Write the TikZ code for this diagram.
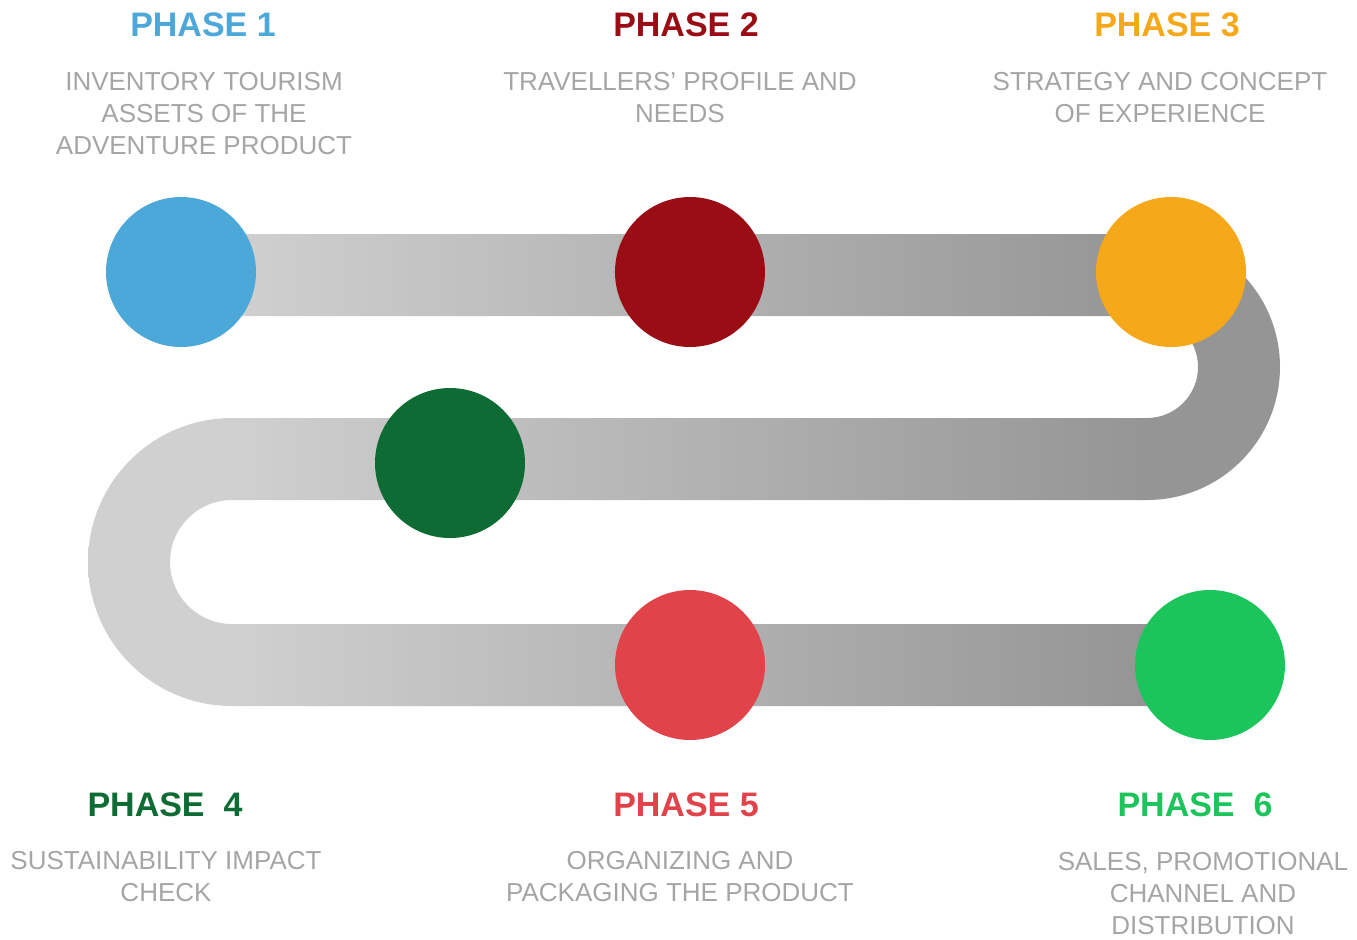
\documentclass[tikz,border=0pt]{standalone}
\usepackage{fontspec}
\setmainfont{Liberation Sans}

\definecolor{phaseone}{HTML}{4DA8DA}
\definecolor{phasetwo}{HTML}{9B0D15}
\definecolor{phasethree}{HTML}{F5A81A}
\definecolor{phasefour}{HTML}{0D6B33}
\definecolor{phasefive}{HTML}{E0434A}
\definecolor{phasesix}{HTML}{1CC45C}
\definecolor{infogray}{HTML}{A5A5A5}
\definecolor{roadlight}{HTML}{D0D0D0}
\definecolor{roaddark}{HTML}{959595}

\pgfdeclarehorizontalshading{roadshade}{100bp}{color(0bp)=(roadlight); color(31bp)=(roadlight); color(69.4bp)=(roaddark); color(100bp)=(roaddark)}

\begin{document}
\begin{tikzpicture}[x=0.5pt,y=-0.5pt,
    phasedot/.style={circle,minimum size=75pt,inner sep=0pt,fill=#1},
    phasetitle/.style={anchor=base,inner sep=0pt,text=#1,font=\fontsize{17}{20}\selectfont\bfseries},
    phaseinfo/.style={anchor=north,inner sep=0pt,align=center,text=infogray,font=\fontsize{13}{16}\selectfont}]
    \useasboundingbox (0,0) rectangle (1357,939);

    % Droga (szara wstega)
    \shade[shading=roadshade] (181,234) -- (1147,234)
        arc[start angle=-90,end angle=90,radius=133] -- (232,500)
        arc[start angle=-90,end angle=-270,radius=62] -- (1210,624)
        -- (1210,706) -- (232,706)
        arc[start angle=90,end angle=270,radius=144] -- (1147,418)
        arc[start angle=90,end angle=-90,radius=51] -- (181,316) -- cycle;

    % Kropki faz
    \node[phasedot=phaseone] (p1) at (181,272) {};
    \node[phasedot=phasetwo] (p2) at (690,272) {};
    \node[phasedot=phasethree] (p3) at (1171,272) {};
    \node[phasedot=phasefour] (p4) at (450,463) {};
    \node[phasedot=phasefive] (p5) at (690,665) {};
    \node[phasedot=phasesix] (p6) at (1210,665) {};

    % Tytuly
    \node[phasetitle=phaseone] (t1) at (203,36) {PHASE 1};
    \node[phasetitle=phasetwo] (t2) at (686,36) {PHASE 2};
    \node[phasetitle=phasethree] (t3) at (1167,36) {PHASE 3};
    \node[phasetitle=phasefour] (t4) at (165,816) {PHASE\ \ 4};
    \node[phasetitle=phasefive] (t5) at (686,816) {PHASE 5};
    \node[phasetitle=phasesix] (t6) at (1195,816) {PHASE\ \ 6};

    % Opisy
    \node[phaseinfo] (d1) at (204,72) {INVENTORY TOURISM\\ASSETS OF THE\\ADVENTURE PRODUCT};
    \node[phaseinfo] (d2) at (680,72) {TRAVELLERS’ PROFILE AND\\NEEDS};
    \node[phaseinfo] (d3) at (1160,72) {STRATEGY AND CONCEPT\\OF EXPERIENCE};
    \node[phaseinfo] (d4) at (166,851) {SUSTAINABILITY IMPACT\\CHECK};
    \node[phaseinfo] (d5) at (680,851) {ORGANIZING AND\\PACKAGING THE PRODUCT};
    \node[phaseinfo] (d6) at (1203,852) {SALES, PROMOTIONAL\\CHANNEL AND\\DISTRIBUTION};

\end{tikzpicture}
\end{document}
